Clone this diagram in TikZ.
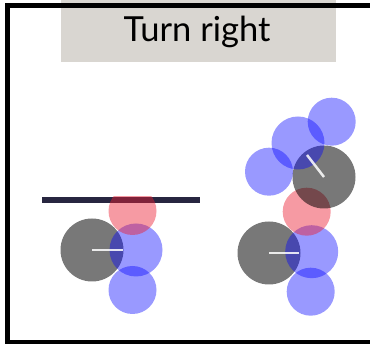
\documentclass[tikz,border=0pt]{standalone}
\usepackage{fontspec}
\setmainfont{Lato}
\definecolor{titlegray}{RGB}{217,214,209}
\definecolor{wallnavy}{RGB}{40,38,64}
\definecolor{sensred}{RGB}{235,30,50}
\begin{document}
\begin{tikzpicture}[x=1pt, y=-1pt,
  robot/.style={circle, fill=black, fill opacity=0.53, minimum size=63pt, inner sep=0pt},
  sensor/.style={circle, fill=blue, fill opacity=0.4, minimum size=48pt, inner sep=0pt},
  bigsensor/.style={sensor, minimum size=53pt},
  hit/.style={circle, fill=sensred, fill opacity=0.45, minimum size=48pt, inner sep=0pt},
  heading/.style={draw=white, draw opacity=0.85, line width=2.5pt},
]
  \useasboundingbox (0,0) rectangle (370,344);

  % title
  \fill[titlegray] (61,0) rectangle (336,62);
  \node[font=\fontsize{34.5}{40}\selectfont, anchor=base, inner sep=0pt] (title) at (197,41.7) {Turn right};

  % frame (cut at right and bottom)
  \draw[line width=5pt] (375,5.5) -- (7.5,5.5) -- (7.5,343) -- (375,343);

  % left: wall ahead
  \coordinate (wallL) at (42,199.7);
  \coordinate (wallR) at (200,199.7);
  \draw[wallnavy, line width=6pt] (wallL) -- (wallR);
  \node[robot] (botA) at (92,250) {};
  \node[bigsensor] (senA1) at (136,250) {};
  \node[sensor] (senA2) at (132.5,290) {};
  \begin{scope}
    \clip (0,196.7) rectangle (370,344);
    \node[hit] (hitA) at (132.5,211) {};
  \end{scope}
  \coordinate (dirA) at (122.7,250);
  \draw[heading] (botA.center) -- (dirA);

  % right: after turning
  \node[robot] (botB) at (269,253) {};
  \node[bigsensor] (senB1) at (311.7,251.7) {};
  \node[sensor] (senB2) at (310.7,291.7) {};
  \node[hit] (hitB) at (306.7,211.7) {};
  \node[robot] (botC) at (324,177) {};
  \node[sensor] (senC1) at (269,171.7) {};
  \node[bigsensor] (senC2) at (298,143) {};
  \node[sensor] (senC3) at (331.7,121.7) {};
  \coordinate (dirB) at (299,253);
  \coordinate (dirC) at (307,155);
  \draw[heading] (botB.center) -- (dirB);
  \draw[heading] (botC.center) -- (dirC);
\end{tikzpicture}
\end{document}
